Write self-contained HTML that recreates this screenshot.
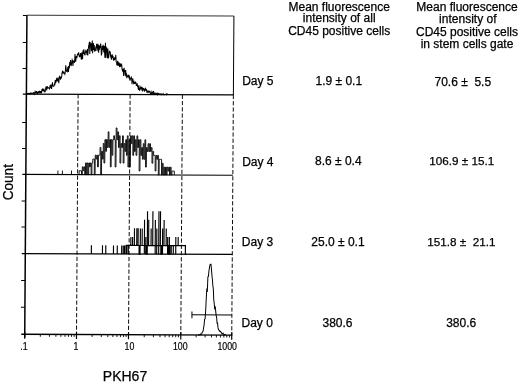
<!DOCTYPE html>
<html><head><meta charset="utf-8"><title>PKH67</title>
<style>
html,body{margin:0;padding:0;background:#fff;}
svg{display:block;}
text{font-family:"Liberation Sans",sans-serif;fill:#000;stroke:#000;stroke-width:0.25px;}
</style></head>
<body>
<svg width="520" height="384" viewBox="0 0 520 384">
<rect width="520" height="384" fill="#fff"/>
<g transform="matrix(1,0.004,-0.0068,1,2.2729,-0.0990)">
<line x1="24.75" y1="15.2" x2="24.75" y2="337.5" stroke="#000" stroke-width="1.5" /><line x1="24.75" y1="15.2" x2="231.75" y2="15.2" stroke="#000" stroke-width="0.8" /><line x1="231.75" y1="15.2" x2="231.75" y2="94.1" stroke="#000" stroke-width="1" /><line x1="21.25" y1="94.1" x2="231.75" y2="94.1" stroke="#000" stroke-width="1.2" /><line x1="21.25" y1="174.4" x2="231.75" y2="174.4" stroke="#000" stroke-width="1.2" /><line x1="21.25" y1="253.6" x2="231.75" y2="253.6" stroke="#000" stroke-width="1.2" /><line x1="21.25" y1="334.25" x2="232.25" y2="334.25" stroke="#000" stroke-width="1.4" /><line x1="20.75" y1="15.4" x2="24.75" y2="15.4" stroke="#000" stroke-width="1" /><line x1="20.75" y1="42.5" x2="24.75" y2="42.5" stroke="#000" stroke-width="1" /><line x1="20.75" y1="68.6" x2="24.75" y2="68.6" stroke="#000" stroke-width="1" /><line x1="20.75" y1="122.6" x2="24.75" y2="122.6" stroke="#000" stroke-width="1" /><line x1="20.75" y1="148.5" x2="24.75" y2="148.5" stroke="#000" stroke-width="1" /><line x1="20.75" y1="201" x2="24.75" y2="201" stroke="#000" stroke-width="1" /><line x1="20.75" y1="227" x2="24.75" y2="227" stroke="#000" stroke-width="1" /><line x1="20.75" y1="280.5" x2="24.75" y2="280.5" stroke="#000" stroke-width="1" /><line x1="20.75" y1="307.3" x2="24.75" y2="307.3" stroke="#000" stroke-width="1" /><line x1="76.5" y1="94.1" x2="76.5" y2="334" stroke="#000" stroke-width="0.95" stroke-dasharray="4.2 2.05"/><line x1="128.5" y1="94.1" x2="128.5" y2="334" stroke="#000" stroke-width="0.95" stroke-dasharray="4.2 2.05"/><line x1="180.8" y1="94.1" x2="180.8" y2="334" stroke="#000" stroke-width="0.95" stroke-dasharray="4.2 2.05"/><line x1="231.75" y1="94.1" x2="231.75" y2="334" stroke="#000" stroke-width="0.95" stroke-dasharray="4.2 2.05"/><line x1="24.75" y1="331.5" x2="24.75" y2="338.8" stroke="#000" stroke-width="1.2" /><line x1="40.33" y1="334.25" x2="40.33" y2="336.7" stroke="#000" stroke-width="0.9" /><line x1="49.44" y1="334.25" x2="49.44" y2="336.7" stroke="#000" stroke-width="0.9" /><line x1="55.91" y1="334.25" x2="55.91" y2="336.7" stroke="#000" stroke-width="0.9" /><line x1="60.92" y1="334.25" x2="60.92" y2="336.7" stroke="#000" stroke-width="0.9" /><line x1="65.02" y1="334.25" x2="65.02" y2="336.7" stroke="#000" stroke-width="0.9" /><line x1="68.48" y1="334.25" x2="68.48" y2="336.7" stroke="#000" stroke-width="0.9" /><line x1="71.48" y1="334.25" x2="71.48" y2="336.7" stroke="#000" stroke-width="0.9" /><line x1="74.13" y1="334.25" x2="74.13" y2="336.7" stroke="#000" stroke-width="0.9" /><line x1="76.5" y1="331.5" x2="76.5" y2="338.8" stroke="#000" stroke-width="1.2" /><line x1="92.15" y1="334.25" x2="92.15" y2="336.7" stroke="#000" stroke-width="0.9" /><line x1="101.31" y1="334.25" x2="101.31" y2="336.7" stroke="#000" stroke-width="0.9" /><line x1="107.81" y1="334.25" x2="107.81" y2="336.7" stroke="#000" stroke-width="0.9" /><line x1="112.85" y1="334.25" x2="112.85" y2="336.7" stroke="#000" stroke-width="0.9" /><line x1="116.96" y1="334.25" x2="116.96" y2="336.7" stroke="#000" stroke-width="0.9" /><line x1="120.45" y1="334.25" x2="120.45" y2="336.7" stroke="#000" stroke-width="0.9" /><line x1="123.46" y1="334.25" x2="123.46" y2="336.7" stroke="#000" stroke-width="0.9" /><line x1="126.12" y1="334.25" x2="126.12" y2="336.7" stroke="#000" stroke-width="0.9" /><line x1="128.5" y1="331.5" x2="128.5" y2="338.8" stroke="#000" stroke-width="1.2" /><line x1="144.24" y1="334.25" x2="144.24" y2="336.7" stroke="#000" stroke-width="0.9" /><line x1="153.45" y1="334.25" x2="153.45" y2="336.7" stroke="#000" stroke-width="0.9" /><line x1="159.99" y1="334.25" x2="159.99" y2="336.7" stroke="#000" stroke-width="0.9" /><line x1="165.06" y1="334.25" x2="165.06" y2="336.7" stroke="#000" stroke-width="0.9" /><line x1="169.2" y1="334.25" x2="169.2" y2="336.7" stroke="#000" stroke-width="0.9" /><line x1="172.7" y1="334.25" x2="172.7" y2="336.7" stroke="#000" stroke-width="0.9" /><line x1="175.73" y1="334.25" x2="175.73" y2="336.7" stroke="#000" stroke-width="0.9" /><line x1="178.41" y1="334.25" x2="178.41" y2="336.7" stroke="#000" stroke-width="0.9" /><line x1="180.8" y1="331.5" x2="180.8" y2="338.8" stroke="#000" stroke-width="1.2" /><line x1="196.14" y1="334.25" x2="196.14" y2="336.7" stroke="#000" stroke-width="0.9" /><line x1="205.11" y1="334.25" x2="205.11" y2="336.7" stroke="#000" stroke-width="0.9" /><line x1="211.47" y1="334.25" x2="211.47" y2="336.7" stroke="#000" stroke-width="0.9" /><line x1="216.41" y1="334.25" x2="216.41" y2="336.7" stroke="#000" stroke-width="0.9" /><line x1="220.45" y1="334.25" x2="220.45" y2="336.7" stroke="#000" stroke-width="0.9" /><line x1="223.86" y1="334.25" x2="223.86" y2="336.7" stroke="#000" stroke-width="0.9" /><line x1="226.81" y1="334.25" x2="226.81" y2="336.7" stroke="#000" stroke-width="0.9" /><line x1="229.42" y1="334.25" x2="229.42" y2="336.7" stroke="#000" stroke-width="0.9" /><line x1="231.75" y1="331.5" x2="231.75" y2="338.8" stroke="#000" stroke-width="1.2" /><line x1="191.8" y1="314.2" x2="231.75" y2="314.2" stroke="#000" stroke-width="1" /><line x1="191.8" y1="310.8" x2="191.8" y2="317.5" stroke="#000" stroke-width="1" />
<polyline points="25.5,93.06 25.9,93.82 26.3,93.61 26.7,93.43 27.1,93.88 27.5,93.52 27.9,93.49 28.3,94.1 28.7,92.94 29.1,93.08 29.5,93.63 29.9,93.37 30.3,92.97 30.7,93.32 31.1,93.26 31.5,93.9 31.9,92.69 32.3,92.88 32.7,92.72 33.1,93.79 33.5,91.67 33.9,92.57 34.3,92.86 34.7,91.09 35.1,92.47 35.5,93.42 35.9,92.56 36.3,93.94 36.7,91.22 37.1,92.29 37.5,92.47 37.9,90.81 38.3,93.07 38.7,91.01 39.1,93.28 39.5,91.86 39.9,92.26 40.3,89.5 40.7,89.01 41.1,91 41.5,89.6 41.9,90.53 42.3,89.53 42.7,90.84 43.1,91.79 43.5,91.75 43.9,88.96 44.3,86.44 44.7,88.67 45.1,89.48 45.5,86.07 45.9,88.04 46.3,87.98 46.7,87.53 47.1,87.82 47.5,87.83 47.9,89.24 48.3,86.1 48.7,86.72 49.1,84.43 49.5,86.59 49.9,88.8 50.3,85.57 50.7,82.24 51.1,85.43 51.5,86 51.9,86.23 52.3,85.66 52.7,83.98 53.1,85.27 53.5,79.88 53.9,82.88 54.3,81.75 54.7,78.73 55.1,78.16 55.5,81.22 55.9,79.7 56.3,78.43 56.7,79.97 57.1,82.99 57.5,77.27 57.9,76.27 58.3,76.89 58.7,79.49 59.1,77.38 59.5,77.85 59.9,76.71 60.3,72.4 60.7,71.32 61.1,72.92 61.5,72.72 61.9,71.89 62.3,73.15 62.7,72.82 63.1,73.89 63.5,71.77 63.9,65.05 64.3,68.26 64.7,71.04 65.1,70.9 65.5,71.5 65.9,67.51 66.3,66.94 66.7,71.71 67.1,65.61 67.5,68.19 67.9,61.76 68.3,65.01 68.7,59.78 69.1,65.86 69.5,64.84 69.9,62.51 70.3,59.64 70.7,60.65 71.1,65.86 71.5,60.86 71.9,60.88 72.3,61.86 72.7,62.1 73.1,53.75 73.5,60.33 73.9,61.39 74.3,55.97 74.7,57.21 75.1,57.46 75.5,54.09 75.9,54.65 76.3,54.65 76.7,52.13 77.1,54.09 77.5,56.85 77.9,55.56 78.3,55.75 78.7,52.78 79.1,57.02 79.5,59.4 79.9,52.14 80.3,56.97 80.7,58.91 81.1,50.12 81.5,53.78 81.9,49.05 82.3,52.56 82.7,54.48 83.1,54.69 83.5,51.73 83.9,50.6 84.3,52.43 84.7,50.19 85.1,54.71 85.5,48.68 85.9,55.33 86.3,49.12 86.7,45.58 87.1,43.93 87.5,41.41 87.9,53.74 88.3,44.8 88.7,42.99 89.1,43.75 89.5,50.97 89.9,45.77 90.3,40.16 90.7,52.97 91.1,45.36 91.5,42.89 91.9,49.8 92.3,44.88 92.7,51.21 93.1,50.22 93.5,50.24 93.9,46.37 94.3,47.47 94.7,43.48 95.1,50.78 95.5,47.71 95.9,43.57 96.3,45.17 96.7,52.45 97.1,44.91 97.5,49.37 97.9,46.17 98.3,46.61 98.7,43.23 99.1,47.56 99.5,55.18 99.9,53.49 100.3,45.7 100.7,49.62 101.1,44.54 101.5,48 101.9,52.05 102.3,45.41 102.7,52.71 103.1,57.58 103.5,42.54 103.9,57.53 104.3,48.39 104.7,47.58 105.1,50.79 105.5,57.78 105.9,48.27 106.3,57.51 106.7,57.47 107.1,54.28 107.5,50.52 107.9,52.64 108.3,51.22 108.7,56.04 109.1,55.48 109.5,59.25 109.9,56.79 110.3,54.07 110.7,57.58 111.1,55.36 111.5,59.37 111.9,59.88 112.3,58.2 112.7,59.45 113.1,57.31 113.5,59.16 113.9,54.55 114.3,61.42 114.7,61.93 115.1,65.01 115.5,62.11 115.9,60.54 116.3,65.5 116.7,63.85 117.1,62 117.5,65.1 117.9,66.79 118.3,62.84 118.7,65.97 119.1,65.61 119.5,63.89 119.9,64.51 120.3,69.3 120.7,70.31 121.1,68.55 121.5,70.22 121.9,75.54 122.3,67.42 122.7,71.32 123.1,69.93 123.5,75.44 123.9,69.55 124.3,74.86 124.7,74.12 125.1,77.83 125.5,75.23 125.9,75.85 126.3,76.21 126.7,75.2 127.1,76.55 127.5,74.9 127.9,78.67 128.3,80.28 128.7,78.53 129.1,77.55 129.5,76.67 129.9,78.04 130.3,83.87 130.7,79.81 131.1,78.03 131.5,81.26 131.9,82.79 132.3,81.55 132.7,83.48 133.1,81.69 133.5,83.27 133.9,81.07 134.3,83.05 134.7,85.55 135.1,83.57 135.5,83.35 135.9,86.2 136.3,86.25 136.7,89.56 137.1,84.72 137.5,87.35 137.9,89.95 138.3,89.63 138.7,87.58 139.1,86.42 139.5,87.89 139.9,87.35 140.3,89.73 140.7,90.25 141.1,87.54 141.5,88.28 141.9,89.16 142.3,87.75 142.7,90.66 143.1,90.2 143.5,88.72 143.9,88.01 144.3,90.24 144.7,88.61 145.1,91.21 145.5,90.39 145.9,91.05 146.3,92.58 146.7,90.92 147.1,90.42 147.5,91.56 147.9,91.62 148.3,90.46 148.7,92.85 149.1,93.14 149.5,92.53 149.9,93.05 150.3,91.17 150.7,92.07 151.1,93.02 151.5,92.91 151.9,90.57 152.3,93.05 152.7,93.21 153.1,92.59 153.5,92.45 153.9,92.78 154.3,93.52 154.7,93.71 155.1,92.77 155.5,93.18 155.9,94.08 156.3,92.65 156.7,92.92 157.1,93.47 157.5,93.51 157.9,93.33 158.3,93.78 158.7,94.09 159.1,93.41 159.5,94.1 159.9,93.45 160.3,94.1 160.7,93.7 161.1,93.74 161.5,93.1 161.9,94.1 162.3,94.1 162.7,93.99 163.1,94.1 163.5,94 163.9,93.72 164.3,93.64 164.7,93.43 165.1,94.08 165.5,93.24 165.9,93.43" fill="none" stroke="#000" stroke-width="1"/>
<path d="M78,174.4V170.5H78.8V170.5H79.6V170.5H80.4V174.4H81.2V166.6H82V170.5H82.8V166.6H83.6V174.4H84.4V162.7H85.2V174.4H86V162.7H86.8V174.4H87.6V162.7H88.4V166.6H89.2V162.7H90V174.4H90.8V162.7H91.6V158.8H92.4V158.8H93.2V174.4H94V154.9H94.8V158.8H95.6V154.9H96.4V166.6H97.2V154.9H98V154.9H98.8V147.1H99.6V174.4H100.4V151H101.2V158.8H102V143.2H102.8V162.7H103.6V139.3H104.4V151H105.2V139.3H106V147.1H106.8V131.5H107.6V147.1H108.4V139.3H109.2V166.6H110V139.3H110.8V154.9H111.6V139.3H112.4V135.4H113.2V139.3H114V166.6H114.8V127.6H115.6V139.3H116.4V131.5H117.2V147.1H118V135.4H118.8V162.7H119.6V143.2H120.4V147.1H121.2V135.4H122V162.7H122.8V143.2H123.6V151H124.4V139.3H125.2V154.9H126V135.4H126.8V166.6H127.6V139.3H128.4V166.6H129.2V135.4H130V143.2H130.8V135.4H131.6V154.9H132.4V135.4H133.2V151H134V139.3H134.8V154.9H135.6V135.4H136.4V147.1H137.2V139.3H138V170.5H138.8V139.3H139.6V154.9H140.4V147.1H141.2V158.8H142V143.2H142.8V158.8H143.6V139.3H144.4V166.6H145.2V147.1H146V151H146.8V143.2H147.6V151H148.4V143.2H149.2V151H150V147.1H150.8V162.7H151.6V151H152.4V154.9H153.2V154.9H154V170.5H154.8V154.9H155.6V158.8H156.4V154.9H157.2V174.4H158V158.8H158.8V158.8H159.6V158.8H160.4V174.4H161.2V162.7H162V174.4H162.8V166.6H163.6V174.4H164.4V166.6H165.2V174.4H166V166.6H166.8V170.5H167.6V166.6H168.4V174.4H169.2V166.6H170V174.4H170.8V170.5H171.6V170.5H172.4V170.5H173.2V174.4M56.8,174.4v-4M61.3,174.4v-4M70.4,174.4v-4" fill="none" stroke="#000" stroke-width="0.9" stroke-linejoin="miter"/>
<path d="M125.5,253.6V245.04H138.52V253.6H139.46V245.04H145.83V253.6H146.67V245.04H160.26V253.6H161.17V245.04H168.18V253.6H169.29V245.04H184.8V253.6H185.99V253.6M126.2,253.6V245.04M127.73,253.6V245.04M130.22,245.04V236.48M131.97,245.04V236.48M133.77,245.04V227.92M136.14,245.04V227.92M137.46,245.04V227.92M139.68,245.04V227.92M141.51,245.04V227.92M143.78,253.6V219.36M145.16,253.6V236.48M146.71,245.04V210.8M148,245.04V219.36M150.45,245.04V227.92M152.09,245.04V210.8M154.6,253.6V219.36M156.12,253.6V227.92M158.13,253.6V210.8M159.71,245.04V210.8M161.93,253.6V227.92M163.36,245.04V219.36M165.54,245.04V227.92M167.02,253.6V236.48M168.73,245.04V236.48M170.65,253.6V245.04M172.72,253.6V245.04M175.17,253.6V236.48M177.52,245.04V236.48M90.8,253.6v-8.56M101.9,253.6v-8.56M105.2,253.6v-8.56M112.9,253.6v-8.56M116.7,253.6v-8.56M121.1,253.6v-8.56M122.7,253.6v-8.56M124,253.6v-8.56" fill="none" stroke="#000" stroke-width="1.15"/>
<polyline points="198,334.21 198.5,334.25 199,333.88 199.5,334.17 200,334 200.5,333.33 201,333.92 201.5,333.36 202,332.13 202.5,331.38 203,330.7 203.5,327.28 204,324.37 204.5,318.48 205,318.16 205.5,310.08 206,297.98 206.5,287.78 207,291.17 207.5,276.05 208,275.75 208.5,270.22 209,267.06 209.5,264.04 210,263.45 210.5,263.45 211,268.33 211.5,274.52 212,278.45 212.5,284.76 213,287.96 213.5,298.71 214,302.76 214.5,308.56 215,305.5 215.5,310.07 216,314.8 216.5,316.44 217,322.34 217.5,322.31 218,327.15 218.5,328.88 219,329.41 219.5,330.11 220,330.94 220.5,330.7 221,331.33 221.5,332.16 222,332.95 222.5,333.02 223,332.39 223.5,333.17 224,334 224.5,333.8 225,333.83 225.5,333.23" fill="none" stroke="#000" stroke-width="1"/>
</g>
<text x="339.2" y="10.5" font-size="12" text-anchor="middle" >Mean fluorescence</text><text x="339.2" y="22" font-size="12" text-anchor="middle" >intensity of all</text><text x="339.2" y="34.5" font-size="12" text-anchor="middle" >CD45 positive cells</text><text x="467" y="10.9" font-size="12" text-anchor="middle" >Mean fluorescence</text><text x="467.8" y="23.3" font-size="12" text-anchor="middle" >intensity of</text><text x="467" y="35.7" font-size="12" text-anchor="middle" >CD45 positive cells</text><text x="467" y="48.1" font-size="12" text-anchor="middle" >in stem cells gate</text><text x="242.2" y="85" font-size="12" text-anchor="start" >Day 5</text><text x="242.2" y="165.5" font-size="12" text-anchor="start" >Day 4</text><text x="241.8" y="245.5" font-size="12" text-anchor="start" >Day 3</text><text x="241.5" y="326.5" font-size="12" text-anchor="start" >Day 0</text><text x="315.5" y="85" font-size="12" text-anchor="start" >1.9 ± 0.1</text><text x="315" y="164.5" font-size="12" text-anchor="start" >8.6 ± 0.4</text><text x="311.3" y="245.5" font-size="12" text-anchor="start" >25.0 ± 0.1</text><text x="322.5" y="326.5" font-size="12" text-anchor="start" >380.6</text><text x="434.5" y="85.5" font-size="12" text-anchor="start" >70.6 ±&#160;&#160;5.5</text><text x="429.3" y="165.3" font-size="11.7" text-anchor="start" >106.9 ± 15.1</text><text x="427.3" y="246" font-size="11.7" text-anchor="start" >151.8 ±&#160;&#160;21.1</text><text x="446.2" y="326.9" font-size="12" text-anchor="start" >380.6</text><text transform="translate(24,350.3) scale(0.87,1)" font-size="10.1" text-anchor="middle" style="stroke-width:0.2px">.1</text><text transform="translate(76,350.3) scale(0.87,1)" font-size="10.1" text-anchor="middle" style="stroke-width:0.2px">1</text><text transform="translate(129.4,350.3) scale(0.87,1)" font-size="10.1" text-anchor="middle" style="stroke-width:0.2px">10</text><text transform="translate(180.3,350.3) scale(0.87,1)" font-size="10.1" text-anchor="middle" style="stroke-width:0.2px">100</text><text transform="translate(227.2,350.3) scale(0.87,1)" font-size="10.1" text-anchor="middle" style="stroke-width:0.2px">1000</text><text x="125" y="381.3" font-size="14" text-anchor="middle" >PKH67</text><text transform="translate(12.5,182.2) rotate(-90) scale(0.905,1)" font-size="15" text-anchor="middle">Count</text>
</svg>
</body></html>
